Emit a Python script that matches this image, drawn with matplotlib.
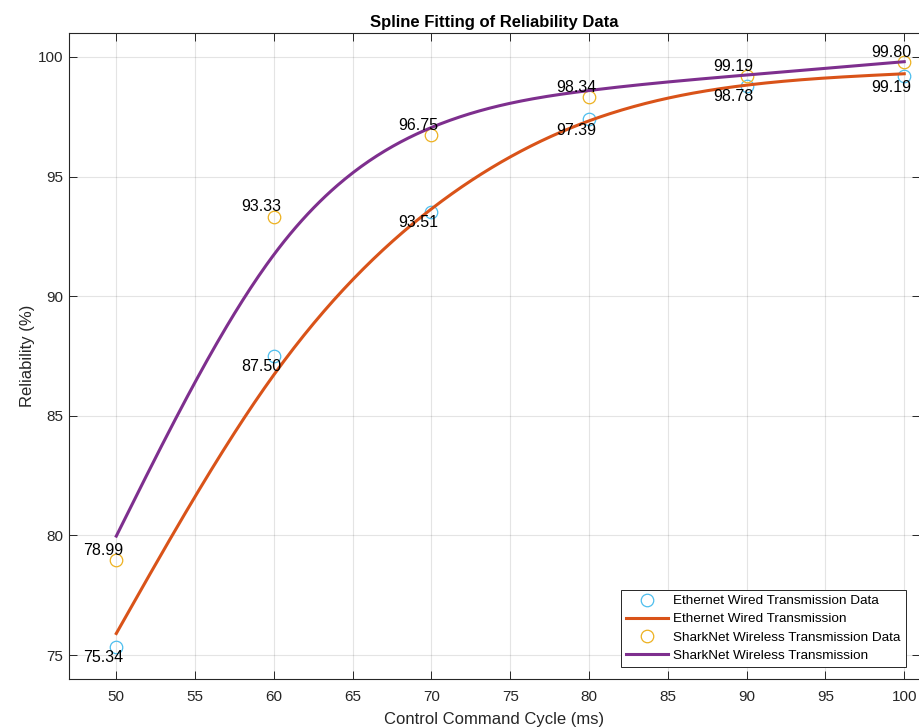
import numpy as np
import matplotlib.pyplot as plt

plt.rcParams['font.family'] = ['Liberation Sans', 'DejaVu Sans']

cycle = np.array([50, 60, 70, 80, 90, 100])
ethernet = np.array([75.34, 87.50, 93.51, 97.39, 98.78, 99.19])
sharknet = np.array([78.99, 93.33, 96.75, 98.34, 99.19, 99.80])

blue = '#4DBEEE'
yellow = '#EDB120'
orange = '#D95319'
purple = '#7E2F8E'
axcol = '#262626'


def smooth_spline(x, y, p=None, num=400):
    # natural cubic smoothing spline, like matlab csaps
    x = x.astype(float)
    n = len(x)
    h = np.diff(x)
    Q = np.zeros((n, n - 2))
    R = np.zeros((n - 2, n - 2))
    for j in range(n - 2):
        Q[j, j] = 1 / h[j]
        Q[j + 1, j] = -1 / h[j] - 1 / h[j + 1]
        Q[j + 2, j] = 1 / h[j + 1]
        R[j, j] = (h[j] + h[j + 1]) / 3
        if j < n - 3:
            R[j, j + 1] = R[j + 1, j] = h[j + 1] / 6
    if p is None:
        p = 1 / (1 + np.trace(6 * R) / (6 * np.trace(Q.T @ Q)))
    K = Q @ np.linalg.solve(R, Q.T)
    a = np.linalg.solve(p * np.eye(n) + (1 - p) * K, p * y)
    m = np.zeros(n)
    m[1:-1] = np.linalg.solve(R, Q.T @ a)
    xs = np.linspace(x[0], x[-1], num)
    i = np.clip(np.searchsorted(x, xs, side='right') - 1, 0, n - 2)
    A = (x[i + 1] - xs) / h[i]
    B = 1 - A
    ys = A * a[i] + B * a[i + 1] + ((A**3 - A) * m[i] + (B**3 - B) * m[i + 1]) * h[i]**2 / 6
    return xs, ys


fig = plt.figure(figsize=(9.19, 7.27), dpi=100)
ax = fig.add_axes([69 / 919, 48 / 727, 851 / 919, 646 / 727])

xe, ye = smooth_spline(cycle, ethernet)
xs, ys = smooth_spline(cycle, sharknet)

ax.plot(cycle, ethernet, 'o', mfc='none', mec=blue, ms=9, mew=0.9,
        label='Ethernet Wired Transmission Data')
ax.plot(xe, ye, '-', color=orange, lw=2.2, label='Ethernet Wired Transmission')
ax.plot(cycle, sharknet, 'o', mfc='none', mec=yellow, ms=9, mew=0.9,
        label='SharkNet Wireless Transmission Data')
ax.plot(xs, ys, '-', color=purple, lw=2.2, label='SharkNet Wireless Transmission')

for x, y in zip(cycle, ethernet):
    ax.text(x + 0.45, y - 0.45, f'{y:.2f}', ha='right', va='center', fontsize=11.5)
for x, y in zip(cycle, sharknet):
    ax.text(x + 0.45, y + 0.4, f'{y:.2f}', ha='right', va='center', fontsize=11.5)

ax.set_xlim(47, 101)
ax.set_ylim(74, 101)
ax.set_xticks(np.arange(50, 101, 5))
ax.set_yticks(np.arange(75, 101, 5))
ax.grid(True, color='#262626', alpha=0.12, lw=0.8)
ax.tick_params(direction='in', length=6, width=0.7, top=True, right=True,
               labelsize=11, colors=axcol)
ax.tick_params(axis='x', pad=8)
ax.tick_params(axis='y', pad=4)
for s in ax.spines.values():
    s.set_color(axcol)
    s.set_linewidth(0.8)

ax.set_xlabel('Control Command Cycle (ms)', fontsize=12, color=axcol, labelpad=6)
ax.set_ylabel('Reliability (%)', fontsize=12, color=axcol, labelpad=2)
ax.set_title('Spline Fitting of Reliability Data', fontsize=12, fontweight='bold', pad=4.5)

leg = ax.legend(loc='lower right', bbox_to_anchor=(906 / 919, 60 / 727),
                bbox_transform=fig.transFigure, borderaxespad=0, fontsize=9.7,
                handlelength=3.1, handletextpad=0.4, labelspacing=0.42,
                borderpad=0.4, fancybox=False, framealpha=1, edgecolor=axcol)
leg.get_frame().set_linewidth(0.7)

fig.savefig('out.png', dpi=100)
